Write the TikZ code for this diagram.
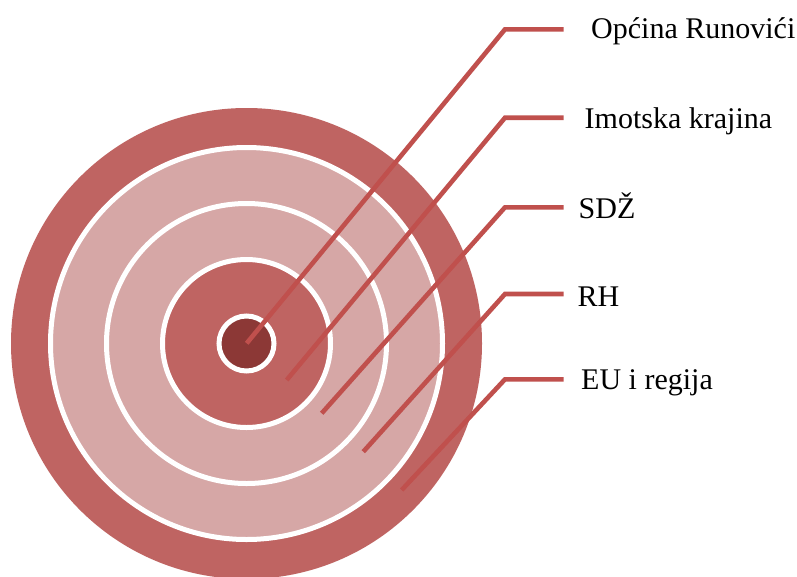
\documentclass[tikz,border=0pt]{standalone}
\usepackage{fontspec}
\setmainfont{Liberation Serif}
\definecolor{ringred}{HTML}{BF6462}
\definecolor{ringpink}{HTML}{D6A7A6}
\definecolor{coredark}{HTML}{8C3836}
\definecolor{linered}{HTML}{C0504D}
\begin{document}
\begin{tikzpicture}[x=1pt,y=-1pt,
  disc/.style={circle, inner sep=0pt, outer sep=0pt},
  ringline/.style={draw=white, line width=5pt},
  leader/.style={draw=linered, line width=4.6pt, line join=miter},
  lbl/.style={anchor=base west, inner sep=0pt, font=\fontsize{30}{32}\selectfont, text=black}]
\path[use as bounding box] (0,0) rectangle (797,576);
\clip (0,0) rectangle (797,576);
\fill[white] (0,0) rectangle (797,576);
% target rings
\node[disc, fill=ringred, minimum size=471pt] (c0) at (246.5,343.5) {};
\node[disc, ringline, fill=ringpink, minimum size=392pt] (c1) at (c0.center) {};
\node[disc, ringline, fill=ringpink, minimum size=280pt] (c2) at (c0.center) {};
\node[disc, ringline, fill=ringred, minimum size=168pt] (c3) at (c0.center) {};
\node[disc, ringline, fill=coredark, minimum size=55pt] (c4) at (c0.center) {};
% leader points
\coordinate (p1) at (246.7,343.3);
\coordinate (k1) at (505,29.3);
\coordinate (e1) at (563.5,29.3);
\coordinate (p2) at (286.7,380);
\coordinate (k2) at (505,117.7);
\coordinate (e2) at (563.5,117.7);
\coordinate (p3) at (321.7,413.3);
\coordinate (k3) at (505,207.3);
\coordinate (e3) at (563.5,207.3);
\coordinate (p4) at (363.3,451.7);
\coordinate (k4) at (505,294);
\coordinate (e4) at (563.5,294);
\coordinate (p5) at (401.7,490);
\coordinate (k5) at (505,379.3);
\coordinate (e5) at (563.5,379.3);
\draw[leader] (p1) -- (k1) -- (e1);
\draw[leader] (p2) -- (k2) -- (e2);
\draw[leader] (p3) -- (k3) -- (e3);
\draw[leader] (p4) -- (k4) -- (e4);
\draw[leader] (p5) -- (k5) -- (e5);
% labels
\node[lbl] (t1) at (591,38.5) {Općina Runovići};
\node[lbl] (t2) at (584.5,128.3) {Imotska krajina};
\node[lbl] (t3) at (578.5,218.3) {SDŽ};
\node[lbl] (t4) at (577.5,306) {RH};
\node[lbl] (t5) at (581,389.3) {EU i regija};
\end{tikzpicture}
\end{document}
